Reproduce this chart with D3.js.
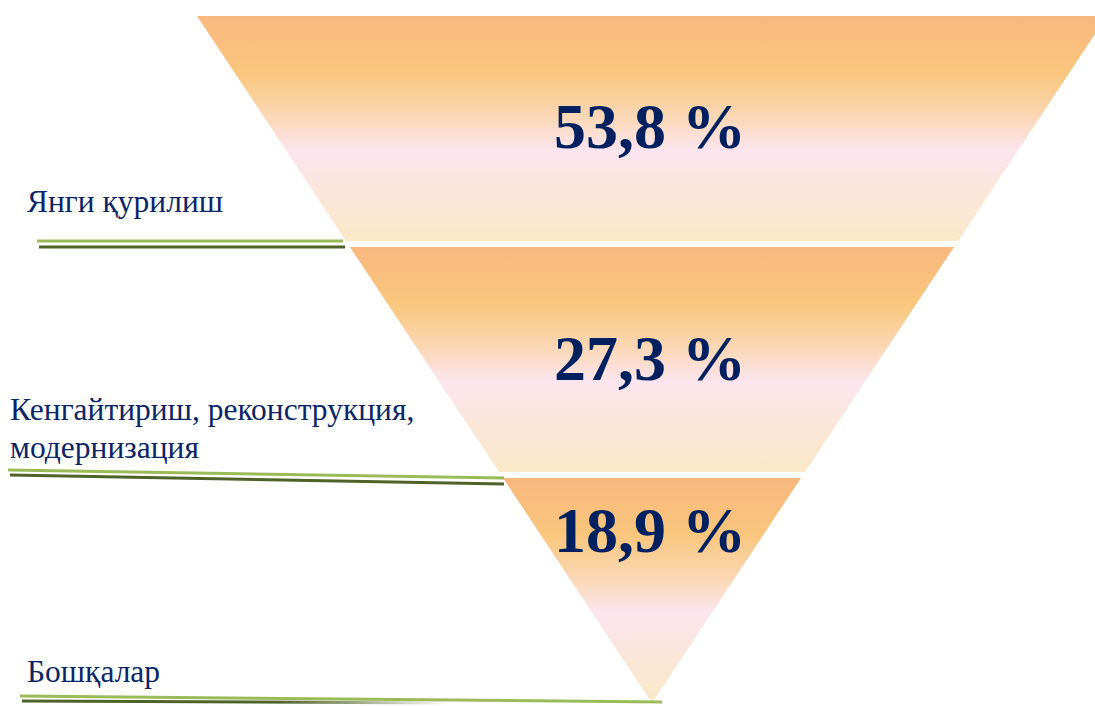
<!DOCTYPE html>
<meta charset="utf-8">
<style>
body { margin: 0; background: #fff; }
.value-label { font-family: "Liberation Serif", "Times New Roman", serif; font-weight: bold; fill: #002060; }
.cat-label { font-family: "Liberation Serif", "Times New Roman", serif; fill: #0b2566; }
</style>
<body>
<script src="https://d3js.org/d3.v7.min.js"></script>
<script>

// data
var categories = ["Янги қурилиш", "Кенгайтириш, реконструкция, модернизация", "Бошқалар"];
var labelLines = [["Янги қурилиш"], ["Кенгайтириш, реконструкция,", "модернизация"], ["Бошқалар"]];
var values = [53.8, 27.3, 18.9];

var width = 1095, height = 706;
var cx = 652, funnelTop = 16, apex = 703, topHalf = 455;

var svg = d3.select("body").append("svg")
    .attr("width", width)
    .attr("height", height);

// band positions (equal height bands)
var y = d3.scaleBand()
    .domain(categories)
    .range([funnelTop, apex])
    .paddingInner(0.026)
    .paddingOuter(0);

// half width of the funnel at a given y
var half = d3.scaleLinear()
    .domain([funnelTop, apex])
    .range([topHalf, 0]);

var defs = svg.append("defs");
var grad = defs.append("linearGradient")
    .attr("id", "bandFill")
    .attr("x1", 0).attr("y1", 0)
    .attr("x2", 0).attr("y2", 1);
[
  [0, "#f8b87e"],
  [0.25, "#f9c67c"],
  [0.45, "#fad8b6"],
  [0.6, "#fce5ef"],
  [0.8, "#fbe6d8"],
  [1, "#fae8c8"]
].forEach(function(s) {
    grad.append("stop").attr("offset", s[0]).attr("stop-color", s[1]);
});

// fading dark line for the last label
var fade = defs.append("linearGradient")
    .attr("id", "darkFade")
    .attr("gradientUnits", "userSpaceOnUse")
    .attr("x1", 22).attr("y1", 0)
    .attr("x2", 450).attr("y2", 0);
fade.append("stop").attr("offset", 0).attr("stop-color", "#4f6228");
fade.append("stop").attr("offset", 0.6).attr("stop-color", "#4f6228");
fade.append("stop").attr("offset", 1).attr("stop-color", "#4f6228").attr("stop-opacity", 0);

// funnel bands
svg.selectAll(".band")
    .data(categories)
    .enter()
    .append("path")
        .attr("class", "band")
        .attr("fill", "url(#bandFill)")
        .attr("d", function(d) {
            var y0 = y(d), y1 = y(d) + y.bandwidth();
            var h0 = half(y0), h1 = half(y1);
            return "M" + (cx - h0) + "," + y0 + "L" + (cx + h0) + "," + y0 +
                   "L" + (cx + h1) + "," + y1 + "L" + (cx - h1) + "," + y1 + "Z";
        });

// value labels
var fmt = d3.format(".1f");
svg.selectAll(".value-label")
    .data(categories)
    .enter()
    .append("text")
        .attr("class", "value-label")
        .attr("text-anchor", "middle")
        .attr("x", cx - 2)
        .attr("y", function(d, i) {
            var bw = y.bandwidth();
            if (i < categories.length - 1) return y(d) + bw / 2 + 20;
            return y(d) + bw * 0.33;
        })
        .style("font-size", "64px")
        .text(function(d, i) { return fmt(values[i]).replace(".", ",") + " %"; });

// leader lines under the category labels (layout)
var lineStart = [37, 8, 20];
var lightDy = [[0, 0], [-2, 6], [-7, -1]];
var darkDy = [[6, 6], [3, 12], [-2, 0]];
var lightEnd = [-3, 5, 10];
var darkEnd = [-1, 5, null];
var labelX = [27, 10, 27];
var labelDy = [-29, -14, -21];

categories.forEach(function(d, i) {
    var yb = y(d) + y.bandwidth();
    var xe = cx - half(yb);
    var g = svg.append("g");
    g.append("line")
        .attr("x1", lineStart[i]).attr("y1", yb + lightDy[i][0])
        .attr("x2", xe + lightEnd[i]).attr("y2", yb + lightDy[i][1])
        .attr("stroke", "#9bbb59")
        .attr("stroke-width", 3);
    g.append("line")
        .attr("x1", lineStart[i] + 2).attr("y1", yb + darkDy[i][0])
        .attr("x2", darkEnd[i] === null ? 450 : xe + darkEnd[i]).attr("y2", yb + darkDy[i][1])
        .attr("stroke", darkEnd[i] === null ? "url(#darkFade)" : "#4f6228")
        .attr("stroke-width", 3);

    var lines = labelLines[i];
    var t = g.append("text")
        .attr("class", "cat-label")
        .style("font-size", "31.5px");
    lines.forEach(function(l, k) {
        t.append("tspan")
            .attr("x", labelX[i])
            .attr("y", yb + labelDy[i] - (lines.length - 1 - k) * 38)
            .text(l);
    });
});

</script>
</body>
